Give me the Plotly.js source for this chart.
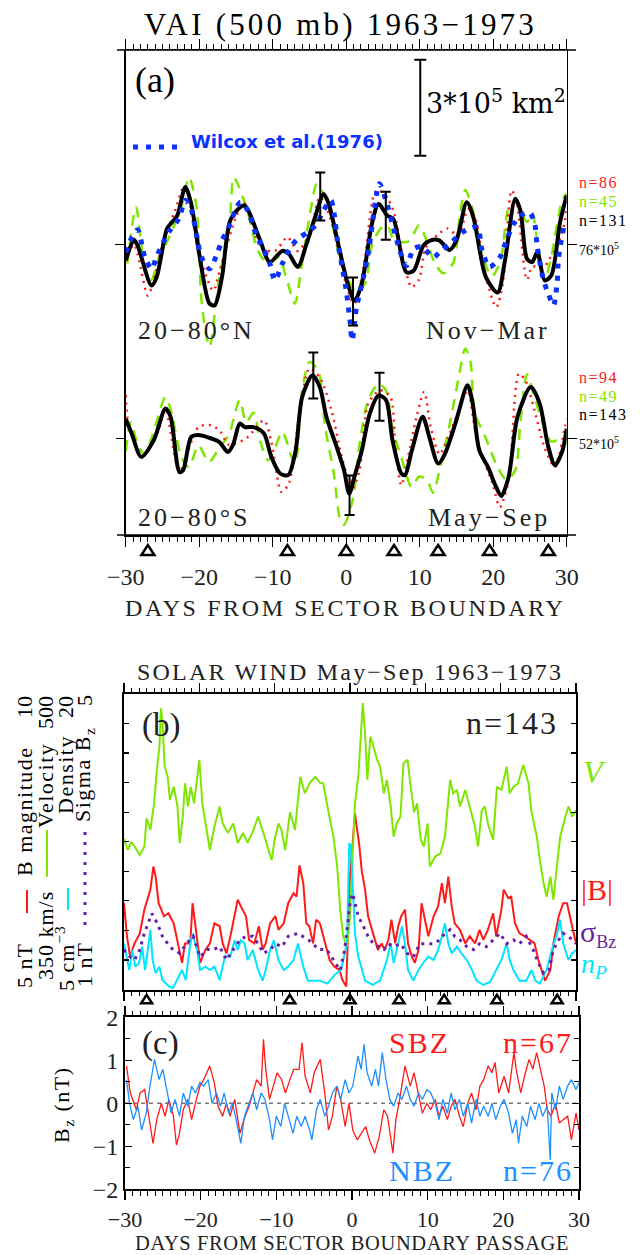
<!DOCTYPE html>
<html>
<head>
<meta charset="utf-8">
<script src="https://cdn.plot.ly/plotly-3.0.1.min.js"></script>
<style>
  html, body { margin: 0; padding: 0; background: #fff; }
  #chart { width: 640px; height: 1255px; }
</style>
</head>
<body>
<div id="chart"></div>
<script>
// ---------------- data: panel (a), VAI at 500 mb (units of 10^5 km^2) ----------------
// [day from sector boundary, value]
const northBlack = [[-30,75.5],[-28.9,76.15],[-28.4,75.97],[-26.5,74.72],[-25.8,74.98],[-24.4,76.49],[-23.7,76.7],[-23,76.9],[-21.9,77.8],[-21.1,77.27],[-20,75.7],[-18.6,74.15],[-17.9,74.1],[-16.9,75.0],[-15.7,76.8],[-13.9,77.22],[-11.8,76.18],[-10.4,75.45],[-8.7,75.8],[-7.8,75.7],[-6.6,75.3],[-5.4,76.02],[-4.25,76.85],[-3.07,77.58],[-2.4,77.28],[-1.2,76.13],[0.2,74.77],[1.15,74.25],[2.1,74.77],[3.5,76.65],[4.4,77.27],[5.6,76.9],[6.4,76.8],[8.2,75.13],[9.2,75.19],[10.5,75.97],[11.5,76.13],[12.65,76.13],[14.06,75.83],[15,76.13],[16.4,77.32],[17.3,76.85],[19,74.98],[20.6,74.5],[21.6,75.5],[23,77.43],[23.7,77.06],[24.6,75.55],[25.3,75.45],[26,75.76],[27,74.88],[27.9,75.03],[29.1,76.7],[30,77.53]];
const northRed = [[-30,75.5],[-28.9,76.0],[-27.0,74.4],[-26.3,74.8],[-25.0,76.0],[-23.3,77.06],[-22.0,77.84],[-20,75.7],[-18.1,74.56],[-17.2,75.19],[-15.1,76.8],[-13.9,77.3],[-11.6,75.9],[-9.7,75.8],[-8.0,76.23],[-6.6,75.8],[-5.0,76.33],[-3.6,77.48],[-2.6,77.1],[-1.2,75.97],[0.2,74.56],[1.1,74.15],[2.3,75.2],[3.8,77.58],[4.3,77.7],[5.4,77.53],[6.5,77.0],[7.7,75.6],[8.9,74.67],[9.9,74.9],[10.8,75.9],[12.4,76.3],[13.8,76.5],[15.2,76.28],[16.6,77.1],[17.5,76.85],[19,75.0],[20.4,74.04],[21.3,74.77],[22.5,77.69],[23.2,77.3],[24.6,74.9],[25.3,75.3],[27,75.3],[27.5,75.5],[28.4,75.8],[29.6,76.54],[30,77.2]];
const northGreen = [[-29.8,75.4],[-28.6,77.17],[-27.9,76.0],[-27.2,75.0],[-26.5,74.9],[-25.5,75.6],[-24.3,76.13],[-22.4,77.2],[-21.4,78.1],[-20.4,77.2],[-19.7,74.25],[-19.0,73.1],[-18.6,72.8],[-17.2,75.1],[-16,76.3],[-15.3,78.1],[-14.6,77.8],[-13.4,77.0],[-12.0,75.8],[-10.6,75.4],[-9.2,75.6],[-8.2,75.0],[-7.0,74.15],[-6.1,75.3],[-4.9,77.0],[-4.0,77.9],[-3.1,77.58],[-2.1,76.9],[-1.0,75.7],[0.5,74.8],[1.4,74.5],[2.6,74.8],[3.5,75.97],[4.7,76.5],[5.6,76.6],[6.5,76.13],[8.5,76.1],[9.9,76.6],[10.8,76.2],[12.0,75.45],[13.2,75.1],[14.6,75.45],[15.5,77.0],[16.2,77.7],[17.2,77.1],[18.4,75.8],[19.8,75.0],[21,75.5],[22.2,77.2],[23.2,77.3],[24.6,76.7],[25.3,77.0],[26,76.1],[27,74.9],[27.9,75.6],[29.4,77.4],[30,77.6]];
// Wilcox et al. (1976)
const northWilcox = [[-30,75.76],[-29.2,76.21],[-28.4,76.46],[-27.4,75.6],[-26.5,75.24],[-25.8,75.62],[-24.9,76.07],[-24,76.44],[-22.8,76.8],[-21.9,77.38],[-21.1,77.1],[-20.4,76.33],[-19.7,75.6],[-18.6,75.24],[-17.6,75.7],[-16.9,76.13],[-16,76.54],[-15.1,77.06],[-14.4,77.32],[-13.4,77.06],[-12.3,76.33],[-11.1,75.8],[-10.4,75.4],[-9.7,74.88],[-8.7,75.4],[-7.6,75.9],[-6.6,76.18],[-5.2,76.39],[-4.0,76.65],[-3.1,77.06],[-2.1,77.38],[-1.65,76.96],[-1.2,76.13],[-0.47,75.19],[0,74.56],[0.5,73.63],[0.8,73.0],[1.4,74.04],[2.35,74.98],[3.1,75.9],[3.8,77.06],[4.5,77.9],[5.4,77.38],[6.4,76.54],[7.3,75.8],[8.2,75.34],[9.2,75.87],[10.4,75.92],[11.8,75.6],[12.9,75.8],[14.3,76.07],[16.2,76.44],[17.8,76.54],[18.5,75.8],[19.5,75.3],[20.9,75.6],[21.8,76.13],[22.8,76.65],[23.7,76.9],[24.9,77.0],[25.6,76.7],[26,75.92],[26.8,74.93],[27.5,74.46],[28.2,74.1],[28.7,74.82],[28.9,75.6],[29.6,76.54]];
const southBlack = [[-30,52.6],[-29.2,52.15],[-27.9,51.42],[-26.2,51.94],[-24.6,52.93],[-23.9,52.67],[-22.7,50.95],[-22.2,51.0],[-21.1,52.04],[-20.1,52.1],[-18.7,52.02],[-17.3,51.89],[-16.1,51.57],[-15.4,51.8],[-14.5,52.46],[-13.8,52.35],[-12.6,52.35],[-11.2,52.15],[-10.2,51.42],[-9.0,50.9],[-7.9,50.85],[-6.9,51.6],[-6.0,53.29],[-4.6,53.97],[-3.6,53.6],[-2.7,52.67],[-1.3,51.73],[-0.3,51.0],[0.4,50.27],[1.1,50.79],[2.1,51.6],[3.2,52.77],[4.4,53.34],[5.4,53.2],[6.3,51.94],[7.5,50.9],[8.0,50.85],[8.9,51.6],[10.4,52.67],[11.3,52.04],[12.5,51.21],[13.4,51.5],[14.9,52.5],[16.5,53.66],[17.2,53.1],[18.1,51.63],[19.3,51.1],[20.2,50.58],[21.1,50.2],[22.1,50.8],[23.3,52.67],[25.1,53.6],[26.3,53.1],[27.5,51.73],[28.4,51.16],[29.4,51.6],[30,52.3]];
const southRed = [[-30,53.34],[-29.6,52.4],[-27.7,51.45],[-25.5,52.3],[-24.6,52.9],[-22.7,51.0],[-20.1,52.35],[-18.3,52.4],[-17.1,52.2],[-16,51.8],[-13.6,52.0],[-11.2,52.56],[-10.2,51.9],[-8.8,50.32],[-7.8,50.6],[-6.4,52.7],[-5.0,54.18],[-3.6,53.9],[-2.0,52.87],[-0.8,51.6],[-0.1,51.0],[0.9,50.47],[1.8,51.0],[3.0,53.08],[4.6,53.5],[6.0,53.3],[6.7,51.7],[7.5,50.53],[8.4,51.4],[9.6,52.7],[10.6,53.45],[11.5,52.35],[12.7,51.5],[13.8,52.0],[15.2,52.8],[16.5,53.5],[17.5,52.3],[18.5,51.45],[19.9,50.6],[20.9,49.85],[22.1,50.7],[23.5,54.02],[24.4,53.8],[25.6,52.9],[27,51.7],[28.4,51.1],[29.8,52.4],[30,52.6]];
const southGreen = [[-30,51.6],[-29.3,52.5],[-28.5,51.9],[-27.5,51.5],[-26.5,52.0],[-24.6,53.29],[-23.9,52.9],[-22.4,51.4],[-21.4,51.1],[-20.1,51.78],[-18.7,51.26],[-17.3,51.7],[-16,52.1],[-14.5,53.19],[-13.6,52.5],[-12.6,52.8],[-11.7,51.9],[-10.6,51.31],[-9.7,51.7],[-8.7,52.2],[-7.0,51.2],[-6.0,53.5],[-5.0,54.38],[-3.8,54.1],[-2.9,52.4],[-1.7,50.9],[-0.8,49.44],[-0.3,49.3],[0.9,50.1],[1.8,51.8],[3.0,53.2],[4.4,53.7],[5.4,53.5],[6.3,52.3],[7.5,51.4],[8.9,50.48],[9.9,50.8],[11.0,50.7],[11.8,50.3],[12.7,51.0],[14.1,52.46],[15.3,53.9],[16.2,54.8],[16.9,54.4],[17.5,52.8],[19,52.0],[20.4,51.2],[21.8,50.7],[23.0,51.0],[23.7,52.5],[24.6,54.0],[25.6,53.3],[27,52.3],[27.9,51.9],[29.4,52.0],[30,51.8]];
// error bars: [day, value, half-width]
const northErr = [[-3.54,77.5,0.75],[0.92,74.22,0.75],[5.38,76.9,0.75]];
const southErr = [[-4.48,53.96,0.72],[0.45,50.22,0.62],[4.53,53.3,0.75]];
const northRef = 76, southRef = 52;          // reference levels (10^5 km^2)
const scaleBar = [10.07, 80.27, 1.5];        // 3*10^5 km^2 bar: day, centre, half-length
const sectorDays = [-27, -8, 0, 6.5, 12.5, 19.5, 27.5];

// ---------------- data: panel (b), solar wind May-Sep ----------------
const velocity = [[-30,426.5],[-29.5,420.8],[-29,425],[-28.3,420.8],[-27.9,418.3],[-27.3,422.5],[-27,436.9],[-26.5,431],[-26,444.5],[-25.6,463.1],[-25.3,473],[-25.1,492.8],[-24.9,486.5],[-24.6,463.1],[-24.2,458],[-23.9,446.2],[-23.4,452.9],[-22.9,442.9],[-22.6,424.3],[-22.2,437.8],[-21.9,454.7],[-21.5,442.9],[-21.15,452.9],[-20.7,444.5],[-20.0,466.6],[-19.6,444.5],[-18.6,420.8],[-18.0,432.7],[-17.3,442.9],[-16.9,434.3],[-16.2,429.5],[-15.5,434.3],[-14.9,424.4],[-14.2,429.5],[-13.6,424.4],[-12.8,431],[-12.2,437.8],[-11.5,429.5],[-10.8,420.8],[-10.4,415.7],[-10.0,425.9],[-9.5,434.3],[-9.1,431],[-8.6,420.8],[-7.96,440],[-7.3,431],[-6.6,458],[-6.0,449.6],[-5.3,455],[-4.6,458],[-4.0,455],[-3.55,454.6],[-2.9,441],[-2.2,427.6],[-1.7,412.4],[-1.3,390.4],[-0.9,376.9],[-0.4,371.8],[0.0,386.9],[0.44,424.3],[0.66,444.5],[1.1,458],[1.4,475],[1.7,495.4],[2.0,480],[2.3,456.5],[2.7,478.4],[3.0,475],[3.6,466.6],[4.0,463.1],[4.5,449.6],[4.9,456.4],[5.4,442.9],[5.8,427.6],[6.2,434.3],[6.7,437.8],[7.1,464.8],[7.65,466.6],[8.0,454.6],[8.5,440],[8.9,444.5],[9.4,425.9],[9.8,422.6],[10.3,434.3],[10.6,412.4],[11.3,417.5],[12.0,419],[12.6,427.6],[13.3,456.4],[13.7,449.6],[14.2,451.3],[14.6,442.9],[15.3,451.3],[15.9,442.9],[16.6,432.5],[17.0,422.6],[17.5,441],[17.9,442.9],[18.3,434.3],[19.0,425.9],[19.5,452.9],[20.1,451.3],[20.8,463.1],[21.2,449.6],[21.7,452.9],[22.3,454.6],[23.0,464],[23.7,454.6],[24.1,440],[24.8,427.6],[25.2,415.7],[25.7,403.9],[26.1,397.1],[26.6,407.3],[27.0,395.5],[27.5,414],[27.9,427.6],[28.6,437.8],[29.0,442.9],[29.5,437.8],[30,441]];
const bMagnitude = [[-30,6.46],[-29.6,5.9],[-29.2,5.56],[-28.6,5.78],[-27.9,5.95],[-27.3,6.35],[-26.5,6.69],[-26.1,7.08],[-25.8,6.91],[-25.4,6.46],[-24.7,6.24],[-24.1,6.29],[-23.4,6.12],[-22.8,5.78],[-22.3,5.45],[-21.9,5.78],[-21.2,5.78],[-20.9,6.46],[-20.3,5.9],[-19.9,5.45],[-19.2,5.67],[-18.6,5.78],[-18.0,6.12],[-17.3,6.07],[-16.9,5.78],[-16.4,5.61],[-15.8,5.95],[-15.3,6.24],[-14.9,6.52],[-14.5,6.41],[-13.8,6.24],[-13.4,5.84],[-12.7,5.78],[-12.1,6.07],[-11.6,5.67],[-11.2,5.78],[-10.6,6.12],[-9.9,6.24],[-9.5,6.01],[-8.8,6.12],[-8.2,6.46],[-7.5,6.63],[-7.1,6.57],[-6.7,7.1],[-6.2,6.8],[-5.8,6.12],[-5.4,6.07],[-4.9,5.78],[-4.5,6.18],[-4.0,6.12],[-3.4,5.84],[-2.7,5.5],[-2.1,5.39],[-1.4,5.33],[-1.0,5.16],[-0.5,5.05],[0.0,6.91],[0.4,7.59],[0.66,7.98],[0.95,7.7],[1.2,7.48],[1.55,7.02],[2.0,6.69],[2.4,6.24],[2.8,6.07],[3.3,5.84],[3.7,5.67],[4.2,5.78],[4.6,5.67],[5.1,5.84],[5.5,6.18],[6.0,5.78],[6.4,6.07],[6.8,6.24],[7.3,6.35],[7.7,5.78],[8.2,5.56],[8.6,5.45],[9.1,5.67],[9.5,6.46],[10.0,6.12],[10.4,5.9],[11.1,6.24],[11.7,6.41],[12.2,6.8],[12.6,6.46],[13.05,6.91],[13.5,6.41],[13.9,6.12],[14.6,6.01],[15.3,5.78],[15.9,5.9],[16.6,5.78],[17.2,6.01],[17.7,5.84],[18.3,6.01],[19.0,6.29],[19.4,5.9],[20.1,6.35],[20.4,6.69],[21.0,6.55],[21.4,6.57],[21.9,6.12],[22.5,5.95],[23.2,5.9],[23.8,5.84],[24.5,5.78],[25.0,5.5],[25.4,5.33],[25.9,5.15],[26.6,5.33],[27.0,5.78],[27.7,6.24],[28.3,6.46],[28.8,6.46],[29.4,6.12],[30,5.78]];
const density = [[-30,7.34],[-29.3,5.99],[-28.9,7.01],[-28.5,6.16],[-28.0,6.34],[-27.6,7.18],[-27.2,5.99],[-26.5,8.03],[-26.2,6.5],[-25.8,5.83],[-25.3,6.16],[-24.9,5.48],[-24,5.15],[-23.5,5.08],[-22.3,5.99],[-21.8,5.48],[-21.2,7.34],[-20.9,7.85],[-20.3,7.01],[-19.9,5.99],[-19.2,6.16],[-18.6,5.99],[-18.0,6.16],[-17.3,5.48],[-16.6,6.67],[-15.9,6.67],[-15.3,7.5],[-14.9,7.01],[-14.5,7.5],[-14.0,7.34],[-13.6,6.5],[-12.9,7.01],[-12.2,5.99],[-11.6,5.45],[-11.2,5.99],[-10.6,7.01],[-10.1,7.5],[-9.5,6.5],[-8.8,5.99],[-8.2,6.16],[-7.5,6.5],[-6.9,7.34],[-6.2,6.16],[-5.6,5.45],[-4.9,5.45],[-4.0,5.45],[-3,5.3],[-2.0,5.75],[-1.2,5.99],[-0.4,7.34],[-0.1,12.43],[0.1,12.26],[0.35,10.4],[0.66,7.85],[1.1,6.67],[1.55,5.99],[2.0,5.45],[3.0,5.23],[4.0,5.45],[4.9,6.5],[5.4,7.34],[5.8,6.34],[6.2,7.01],[6.9,8.2],[7.3,7.34],[7.7,5.99],[8.4,5.45],[9.1,5.99],[9.7,6.34],[10.4,6.67],[11.1,6.5],[11.7,7.01],[12.2,7.69],[12.6,8.36],[13.05,7.34],[13.5,6.83],[14.2,7.18],[14.8,6.83],[15.5,6.5],[16.2,5.99],[16.8,5.45],[17.7,5.23],[18.6,5.38],[19.4,5.99],[20.1,6.5],[20.8,7.34],[21.2,6.5],[21.7,5.99],[22.5,5.45],[23.4,5.45],[24.1,5.99],[24.6,5.45],[25.2,5.3],[26.1,5.99],[26.8,7.01],[27.5,7.85],[27.9,8.54],[28.3,7.34],[29.0,6.5],[29.5,6.83],[30,7.01]];
const sigmaBz = [[-30,1.54],[-29.2,1.44],[-28.6,1.4],[-27.9,1.54],[-27.3,1.76],[-26.8,1.9],[-26.3,2.03],[-25.6,1.9],[-24.9,1.72],[-24.2,1.62],[-23.5,1.54],[-22.6,1.49],[-21.7,1.62],[-20.8,1.72],[-19.9,1.44],[-19.0,1.54],[-18.1,1.54],[-17.3,1.58],[-16.4,1.4],[-15.5,1.54],[-14.6,1.67],[-13.8,1.72],[-12.9,1.72],[-12.2,1.62],[-11.5,1.49],[-10.6,1.54],[-9.9,1.62],[-9.0,1.58],[-8.2,1.72],[-6.9,1.76],[-6.2,1.72],[-5.5,1.67],[-4.9,1.62],[-4.2,1.54],[-3.1,1.54],[-2.2,1.4],[-1.3,1.26],[-0.7,1.54],[0.0,2.17],[0.35,2.3],[0.66,2.17],[1.1,1.99],[1.8,1.85],[2.4,1.72],[3.1,1.62],[3.8,1.58],[4.5,1.54],[5.1,1.62],[5.8,1.58],[6.7,1.62],[7.6,1.49],[8.4,1.44],[9.3,1.62],[10.3,1.62],[11.1,1.62],[11.9,1.67],[12.6,1.76],[13.3,1.81],[13.9,1.72],[14.6,1.67],[15.5,1.58],[16.4,1.54],[17.2,1.62],[18.1,1.58],[19.0,1.67],[19.9,1.76],[20.8,1.62],[21.7,1.67],[22.5,1.62],[23.4,1.72],[24.3,1.54],[25.0,1.36],[25.7,1.22],[26.4,1.26],[27.0,1.54],[27.7,1.67],[28.3,1.76],[29.0,1.72],[30,1.62]];
// axis scales of panel (b): bottom and top of the frame for each quantity
const rangeB = [5, 10], rangeV = [350, 500], rangeN = [5, 20], rangeS = [1, 5];

// ---------------- data: panel (c), IMF Bz (nT) ----------------
const southBz = [[-29.8,0.87],[-29.3,0.24],[-28.5,-0.15],[-28.0,0.24],[-27.4,0.32],[-26.9,-0.23],[-26.3,-0.93],[-25.8,-0.38],[-25.2,0],[-24.7,-0.3],[-24.2,0.09],[-23.6,-0.3],[-23.2,-0.97],[-22.8,-0.7],[-22.3,-0.15],[-21.7,0.09],[-21.2,-0.38],[-20.7,0],[-20.1,0.4],[-19.6,0.55],[-18.8,0.87],[-18.2,0.48],[-17.7,-0.07],[-17.1,-0.3],[-16.6,0],[-16.1,-0.3],[-15.5,0.09],[-14.8,-0.7],[-14.3,-0.38],[-13.6,-0.07],[-13.1,0.24],[-12.6,0.55],[-12.0,0.4],[-11.7,1.49],[-11.4,0.79],[-10.9,0.09],[-10.4,0.4],[-9.9,0.71],[-9.3,0.55],[-8.8,0.24],[-8.2,0.55],[-7.7,0.79],[-7.0,0.79],[-6.6,1.41],[-6.2,0.63],[-5.5,0.24],[-5.0,0.71],[-4.2,1.02],[-3.6,0.24],[-3.1,-0.62],[-2.6,-0.3],[-2.0,0.4],[-1.5,0.09],[-0.9,-0.54],[-0.4,0],[0.1,-0.62],[0.7,-0.85],[1.2,-0.7],[1.8,-0.54],[2.3,-0.85],[3.0,-1.16],[3.6,-0.77],[4.2,-0.15],[4.7,-0.3],[5.4,-1.16],[5.8,-0.38],[6.3,0.09],[7.0,0.87],[7.7,0.4],[8.2,0.71],[8.8,0.24],[9.3,-0.23],[9.9,0],[10.4,-0.15],[11.0,0.09],[11.5,-0.3],[12.0,-0.07],[12.6,-0.38],[13.1,-0.07],[13.6,0.09],[14.2,-0.3],[14.7,-0.54],[15.3,0],[15.8,0.24],[16.4,-0.15],[16.9,0.4],[17.4,0.55],[18.0,0.87],[18.5,0.71],[18.9,0.95],[19.4,0.24],[20.1,0.63],[20.7,0.24],[21.4,1.18],[21.7,0.79],[22.3,0.24],[22.8,0.63],[23.4,1.02],[23.9,0.79],[24.4,1.18],[24.8,0.87],[25.4,0.4],[25.8,-0.15],[26.3,-0.3],[26.9,0],[27.4,-0.46],[27.9,-0.38],[28.5,-0.3],[29.0,-0.85],[29.6,-0.23],[30,-0.62]];
const northBz = [[-29.8,0.55],[-29.4,0],[-28.9,-0.38],[-28.3,-0.07],[-27.8,-0.62],[-27.2,-0.23],[-26.7,0.4],[-26.1,1.02],[-25.5,0.55],[-25.0,0.79],[-24.4,0.24],[-23.9,-0.23],[-23.4,0.09],[-22.8,-0.3],[-22.3,0.24],[-21.7,-0.07],[-21.2,0.4],[-20.7,0.24],[-20.1,0.48],[-19.6,0.4],[-19.0,0.55],[-18.5,0],[-17.9,0.24],[-17.4,-0.07],[-16.9,0.24],[-16.3,-0.23],[-15.8,0],[-15.3,-0.38],[-14.7,-0.93],[-14.2,-0.3],[-13.6,0],[-13.1,0.24],[-12.6,-0.15],[-12.0,0.24],[-11.5,0.09],[-10.9,-0.38],[-10.5,-0.85],[-10.0,-0.3],[-9.4,-0.54],[-8.9,0],[-8.3,-0.38],[-7.8,-0.7],[-7.3,-0.3],[-6.7,-0.54],[-6.2,-0.3],[-5.6,-0.62],[-5.3,-0.85],[-4.7,-0.15],[-4.2,0.09],[-3.6,-0.3],[-3.1,-0.07],[-2.6,0.24],[-2.0,0.4],[-1.5,0.09],[-0.9,0.55],[-0.4,0.24],[0.1,0.4],[0.8,1.1],[1.2,0.79],[1.6,1.37],[2.0,0.71],[2.6,0.4],[3.1,0.79],[3.5,0.4],[4.0,1.18],[4.5,0.55],[5.0,0.09],[5.5,-0.07],[6.1,0.24],[6.6,0.09],[7.2,0.4],[7.7,0.09],[8.2,-0.07],[8.8,0.24],[9.3,0.09],[9.9,0.32],[10.4,0.24],[11.0,0],[11.5,-0.38],[12.0,0.09],[12.6,-0.23],[13.1,0.24],[13.6,-0.15],[14.2,0.09],[14.7,-0.3],[15.3,0],[15.8,-0.46],[16.4,0.09],[16.9,-0.3],[17.4,-0.07],[18.0,-0.3],[18.5,0],[19.0,-0.38],[19.6,-0.07],[20.1,0.09],[20.7,-0.23],[21.2,-0.7],[21.7,-0.38],[22.0,-0.93],[22.5,-0.3],[23.1,-0.54],[23.6,-0.07],[24.2,-0.38],[24.7,0],[25.2,-0.3],[25.8,-0.07],[26.2,-1.32],[26.4,0.24],[26.9,-0.15],[27.4,0.4],[27.9,0.09],[28.5,0.4],[29.0,0.55],[29.6,0.32],[30,0.48]];

// ---------------- drawing ----------------
const W = 640, H = 1255;
const SERIF = 'Liberation Serif, DejaVu Serif, serif';
const GREEN = '#7fe600', RED = '#ff1a1a', BLUE = '#0a32ff', CYAN = '#00e5ff', PURPLE = '#6a1fa8', SKY = '#1e8fff';
const px = x => x / W, py = y => 1 - y / H;
const dom = (a, b) => [a / W, b / W];
const vdom = (top, bottom) => [1 - bottom / H, 1 - top / H];
const xs = d => d.map(p => p[0]), ys = d => d.map(p => p[1]);

// y range so that a reference value sits at a given pixel row, ppu px per unit
function rangeFor(ref, refPx, topPx, botPx, ppu) {
  return [ref - (botPx - refPx) / ppu, ref + (refPx - topPx) / ppu];
}
const A_TOP = 50, A_BOT = 535;
const rangeNorth = rangeFor(northRef, 244.5, A_TOP, A_BOT, 32);
const rangeSouth = rangeFor(southRef, 438.3, A_TOP, A_BOT, 32);

function line(d, ax, color, width, dash, shape) {
  return { type: 'scatter', mode: 'lines', x: xs(d), y: ys(d), xaxis: ax[0], yaxis: ax[1],
           line: { color, width, dash: dash || 'solid', shape: shape || 'linear', smoothing: 0.8 },
           hoverinfo: 'skip', showlegend: false };
}
function errs(d, ax) {
  return { type: 'scatter', mode: 'markers', x: d.map(p => p[0]), y: d.map(p => p[1]),
           xaxis: ax[0], yaxis: ax[1], marker: { size: 1, color: 'rgba(0,0,0,0)' },
           error_y: { type: 'data', array: d.map(p => p[2]), visible: true, color: '#000', thickness: 2, width: 5 },
           showlegend: false, hoverinfo: 'skip' };
}

const traces = [
  // panel (a), north
  line(northGreen, ['x', 'y'], GREEN, 2.5, '11px,8px', 'spline'),
  line(northRed, ['x', 'y'], RED, 2.5, '2px,5px', 'spline'),
  line(northBlack, ['x', 'y'], '#000', 4, 'solid', 'spline'),
  line(northWilcox, ['x', 'y'], BLUE, 5, '5px,7px', 'spline'),
  errs(northErr, ['x', 'y']),
  // panel (a), south
  line(southGreen, ['x', 'y2'], GREEN, 2.5, '11px,8px', 'spline'),
  line(southRed, ['x', 'y2'], RED, 2.5, '2px,5px', 'spline'),
  line(southBlack, ['x', 'y2'], '#000', 4, 'solid', 'spline'),
  errs(southErr, ['x', 'y2']),
  // scale bar
  { type: 'scatter', mode: 'markers', x: [scaleBar[0]], y: [scaleBar[1]], xaxis: 'x', yaxis: 'y',
    marker: { size: 1, color: 'rgba(0,0,0,0)' },
    error_y: { type: 'data', array: [scaleBar[2]], visible: true, color: '#000', thickness: 2, width: 6 },
    showlegend: false, hoverinfo: 'skip' },
  // panel (b): |B| on the framed axis, the others on overlaid scales
  line(velocity, ['x2', 'y4'], GREEN, 2),
  line(density, ['x2', 'y5'], CYAN, 2),
  line(bMagnitude, ['x2', 'y3'], RED, 2),
  line(sigmaBz, ['x2', 'y6'], PURPLE, 3, '3px,5px'),
  // panel (c)
  line(southBz, ['x3', 'y8'], RED, 1.3),
  line(northBz, ['x3', 'y8'], SKY, 1.3)
];

function ann(x, y, text, size, color, o) {
  o = o || {};
  return { xref: 'paper', yref: 'paper', x: px(x), y: py(y), text, showarrow: false,
           xanchor: o.xa || 'center', yanchor: 'middle', textangle: o.rot || 0,
           font: { family: o.family || SERIF, size, color: color || '#000' } };
}
const sp = (t, s) => '<span style="letter-spacing:' + s + 'px">' + t + '</span>';

const annotations = [
  // panel (a)
  ann(340, 25, sp('VAI (500 mb) 1963\u22121973', 3.2), 31),
  ann(133, 80, '(a)', 36, '#000', { xa: 'left' }),
  ann(424, 101, '3*10<sup>5</sup> km<sup>2</sup>', 27, '#000', { xa: 'left', family: 'DejaVu Serif, serif' }),
  ann(189, 142, '<b>Wilcox et al.(1976)</b>', 18, BLUE, { xa: 'left', family: 'DejaVu Sans, sans-serif' }),
  ann(136, 330, sp('20\u221280\u00b0N', 3), 26, '#222', { xa: 'left' }),
  ann(552, 330, sp('Nov\u2212Mar', 3), 26, '#222', { xa: 'right' }),
  ann(136, 517, sp('20\u221280\u00b0S', 3), 26, '#222', { xa: 'left' }),
  ann(552, 517, sp('May\u2212Sep', 3), 26, '#222', { xa: 'right' }),
  ann(577, 182, sp('n=86', 1.5), 16, RED, { xa: 'left' }),
  ann(577, 201, sp('n=45', 1.5), 16, GREEN, { xa: 'left' }),
  ann(577, 221, sp('n=131', 1.5), 16, '#000', { xa: 'left' }),
  ann(577, 249, '76*10<sup>5</sup>', 14, '#000', { xa: 'left' }),
  ann(577, 377, sp('n=94', 1.5), 16, RED, { xa: 'left' }),
  ann(577, 396, sp('n=49', 1.5), 16, GREEN, { xa: 'left' }),
  ann(577, 415, sp('n=143', 1.5), 16, '#000', { xa: 'left' }),
  ann(577, 443, '52*10<sup>5</sup>', 14, '#000', { xa: 'left' }),
  ann(345, 608, sp('DAYS FROM SECTOR BOUNDARY', 2.6), 24, '#222'),
  // panel (b)
  ann(350, 672, sp('SOLAR WIND May\u2212Sep 1963\u22121973', 2.2), 24, '#222'),
  ann(140, 725, '(b)', 33, '#222', { xa: 'left' }),
  ann(560, 723, sp('n=143', 2), 32, '#222', { xa: 'right' }),
  ann(581, 772, '<i>V</i>', 32, GREEN, { xa: 'left' }),
  ann(579, 889, '|B|', 30, RED, { xa: 'left' }),
  ann(578, 933, '\u03c3<sub><span style="font-size:18px">Bz</span></sub>', 30, PURPLE, { xa: 'left' }),
  ann(579, 965, '<i>n<sub>P</sub></i>', 28, CYAN, { xa: 'left' }),
  // rotated axis key of panel (b)
  ann(24, 966, sp('5 nT', 1), 22, '#000', { rot: -90 }),
  ann(24, 811, sp('B magnitude', 1.5), 22, '#000', { rot: -90 }),
  ann(24, 707, '10', 22, '#000', { rot: -90 }),
  ann(45, 936, sp('350 km/s', 1), 22, '#000', { rot: -90 }),
  ann(45, 786, sp('Velocity', 1.5), 22, '#000', { rot: -90 }),
  ann(45, 713, '500', 22, '#000', { rot: -90 }),
  ann(65, 958, sp('5 cm<sup>\u22123</sup>', 1), 22, '#000', { rot: -90 }),
  ann(65, 775, sp('Density', 1.5), 22, '#000', { rot: -90 }),
  ann(65, 707, '20', 22, '#000', { rot: -90 }),
  ann(84, 965, sp('1 nT', 1), 22, '#000', { rot: -90 }),
  ann(84, 775, sp('Sigma B<sub>z</sub>', 1.5), 22, '#000', { rot: -90 }),
  ann(84, 701, '5', 22, '#000', { rot: -90 }),
  // panel (c)
  ann(140, 1043, '(c)', 33, '#222', { xa: 'left' }),
  ann(387, 1042, sp('SBZ', 2), 30, RED, { xa: 'left' }),
  ann(575, 1042, sp('n=67', 2), 30, RED, { xa: 'right' }),
  ann(387, 1170, sp('NBZ', 2), 30, SKY, { xa: 'left' }),
  ann(575, 1170, sp('n=76', 2), 30, SKY, { xa: 'right' }),
  ann(63, 1105, sp('B<sub>z</sub> (nT)', 1.5), 22, '#000', { rot: -90 }),
  ann(352, 1243, sp('DAYS FROM SECTOR BOUNDARY PASSAGE', 0.6), 20.5, '#222')
];

// open triangle at a sector-boundary day, placed by the x axis scale, fixed pixel size
function sectorMark(xref, day, rowPx, half, h) {
  return { type: 'path', xref, yref: 'paper', xsizemode: 'pixel', xanchor: day,
           ysizemode: 'pixel', yanchor: py(rowPx),
           path: 'M' + (-half) + ',' + (-h / 2) + ' L' + half + ',' + (-h / 2) + ' L0,' + (h / 2) + ' Z',
           line: { color: '#000', width: 2.5 }, fillcolor: 'rgba(0,0,0,0)' };
}

const shapes = [
  // extended horizontal axis lines of panel (a)
  { type: 'line', xref: 'paper', yref: 'paper', x0: px(117), x1: px(576), y0: py(A_TOP), y1: py(A_TOP), line: { color: '#000', width: 1.5 } },
  { type: 'line', xref: 'paper', yref: 'paper', x0: px(117), x1: px(576), y0: py(A_BOT), y1: py(A_BOT), line: { color: '#000', width: 1.5 } },
  // Wilcox key sample
  { type: 'line', xref: 'paper', yref: 'paper', x0: px(133), x1: px(184), y0: py(147), y1: py(147), line: { color: BLUE, width: 5, dash: '5px,8px' } },
  // line samples in the rotated key of panel (b)
  { type: 'line', xref: 'paper', yref: 'paper', x0: px(27), x1: px(27), y0: py(890), y1: py(913), line: { color: RED, width: 2 } },
  { type: 'line', xref: 'paper', yref: 'paper', x0: px(47), x1: px(47), y0: py(830), y1: py(877), line: { color: GREEN, width: 2 } },
  { type: 'line', xref: 'paper', yref: 'paper', x0: px(68), x1: px(68), y0: py(888), y1: py(910), line: { color: CYAN, width: 2 } },
  { type: 'line', xref: 'paper', yref: 'paper', x0: px(85), x1: px(85), y0: py(832), y1: py(930), line: { color: PURPLE, width: 3, dash: '3px,7px' } },
  // zero line of panel (c)
  { type: 'line', xref: 'x3', yref: 'y8', x0: -30, x1: 30, y0: 0, y1: 0, layer: 'below', line: { color: '#777', width: 1.5, dash: '4px,4px' } }
].concat(sectorDays.map(d => sectorMark('x', d, 550, 6.5, 10)))
 .concat(sectorDays.map(d => sectorMark('x2', d, 999, 5.5, 8.5)));

const xCommon = { range: [-30, 30], showgrid: false, zeroline: false, showline: true, linecolor: '#000',
  mirror: 'ticks', ticks: 'outside', tick0: -30, dtick: 10, ticklen: 10, tickwidth: 1.3, tickcolor: '#000',
  minor: { ticks: 'outside', dtick: 1, ticklen: 5, tickwidth: 1, tickcolor: '#000' },
  tickfont: { family: SERIF, size: 24, color: '#222' } };
const hidden = { visible: false, showgrid: false, zeroline: false };

const layout = {
  width: W, height: H, margin: { l: 0, r: 0, t: 0, b: 0 },
  paper_bgcolor: '#fff', plot_bgcolor: 'rgba(0,0,0,0)', showlegend: false,
  font: { family: SERIF, color: '#000' },
  xaxis: Object.assign({}, xCommon, { domain: dom(125.8, 566.7), anchor: 'y', linewidth: 1.5, ticklabelstandoff: 10 }),
  yaxis: { domain: vdom(A_TOP, A_BOT), range: rangeNorth, anchor: 'x', showgrid: false, zeroline: false,
           showline: true, linecolor: '#000', linewidth: 1.5, mirror: 'ticks', ticks: 'outside',
           tickvals: [northRef], ticklen: 9, tickwidth: 1.3, tickcolor: '#000', showticklabels: false },
  yaxis2: { overlaying: 'y', range: rangeSouth, anchor: 'x', showgrid: false, zeroline: false, showline: false,
            mirror: 'ticks', ticks: 'outside', tickvals: [southRef], ticklen: 9, tickwidth: 1.3, tickcolor: '#000',
            showticklabels: false },
  xaxis2: Object.assign({}, xCommon, { domain: dom(124, 576), anchor: 'y3', linewidth: 2, ticklen: 9,
            minor: { ticks: 'outside', dtick: 1, ticklen: 4.5, tickwidth: 1, tickcolor: '#000' }, showticklabels: false }),
  // |B| scale, ticks every 0.5 nT (ten divisions shared by all four quantities)
  yaxis3: { domain: vdom(694, 989.5), range: rangeB, anchor: 'x2', showgrid: false, zeroline: false,
            showline: true, linecolor: '#000', linewidth: 2, mirror: 'ticks', ticks: 'inside',
            tick0: rangeB[0], dtick: (rangeB[1] - rangeB[0]) / 10,
            ticklen: 5, tickwidth: 1.2, tickcolor: '#000', showticklabels: false },
  yaxis4: Object.assign({}, hidden, { overlaying: 'y3', anchor: 'x2', range: rangeV }),
  yaxis5: Object.assign({}, hidden, { overlaying: 'y3', anchor: 'x2', range: rangeN }),
  yaxis6: Object.assign({}, hidden, { overlaying: 'y3', anchor: 'x2', range: rangeS }),
  xaxis3: Object.assign({}, xCommon, { domain: dom(125, 579), anchor: 'y8', linewidth: 2, ticklen: 9,
            minor: { ticks: 'outside', dtick: 1, ticklen: 4.5, tickwidth: 1, tickcolor: '#000' },
            tickfont: { family: SERIF, size: 22, color: '#222' }, ticklabelstandoff: 0 }),
  yaxis8: { domain: vdom(1017.3, 1189.3), range: [-2, 2], anchor: 'x3', showgrid: false, zeroline: false,
            showline: true, linecolor: '#000', linewidth: 2, mirror: 'ticks', ticks: 'inside', dtick: 1,
            ticklen: 7, tickwidth: 1.3, tickcolor: '#000',
            minor: { ticks: 'inside', dtick: 0.5, ticklen: 5, tickwidth: 1.2, tickcolor: '#000' },
            tickfont: { family: SERIF, size: 24, color: '#222' }, ticklabelstandoff: 0 },
  annotations, shapes
};

Plotly.newPlot('chart', traces, layout, { staticPlot: true, displayModeBar: false });
</script>
</body>
</html>
